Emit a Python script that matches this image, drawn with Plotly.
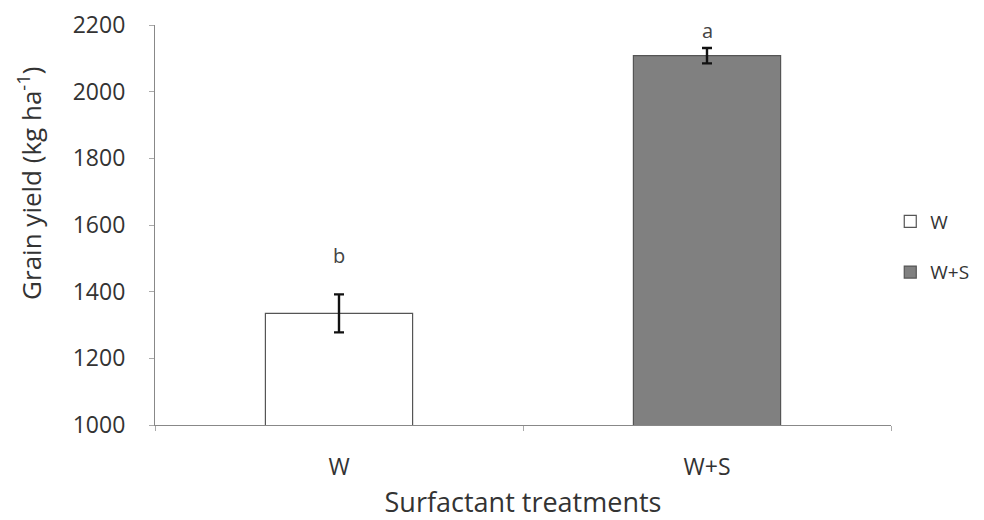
import plotly.graph_objects as go

categories = ["W", "W+S"]
yield_means = [1335, 2108]
yield_errors = [57, 23]
letters = ["b", "a"]
letter_y = [1510, 2185]
fill_colors = ["#ffffff", "#808080"]
y_ticks = [1000, 1200, 1400, 1600, 1800, 2000, 2200]

fig = go.Figure()
for i, cat in enumerate(categories):
    fig.add_trace(go.Bar(
        x=[cat], y=[yield_means[i]], name=cat,
        marker=dict(color=fill_colors[i], line=dict(color="#555555", width=1.2)),
        width=0.4,
        error_y=dict(type="data", array=[yield_errors[i]], color="#111111", thickness=2.4, width=5),
        legendgroup=cat,
    ))

for i, cat in enumerate(categories):
    fig.add_annotation(x=cat, y=letter_y[i], text=letters[i], showarrow=False,
                       font=dict(size=20, color="#444444"))

# y-axis title (placed like the reference, slightly above the plot centre)
fig.add_annotation(xref="paper", yref="paper", x=-0.17, y=0.605,
                   text="Grain yield (kg ha<sup>-1</sup>)", textangle=-90, showarrow=False,
                   xanchor="center", yanchor="middle",
                   font=dict(size=26, color="#333333"))

font_family = "Open Sans, Liberation Sans, sans-serif"
fig.update_layout(
    width=976, height=512,
    margin=dict(l=147, r=93, t=17, b=95, autoexpand=False),
    plot_bgcolor="white", paper_bgcolor="white",
    barmode="overlay",
    font=dict(family=font_family, color="#333333", size=20),
    showlegend=True,
    legend=dict(x=0.999, y=0.445, xanchor="left", yanchor="middle",
                font=dict(size=19, color="#333333"), tracegroupgap=23,
                traceorder="grouped", itemwidth=30),
    xaxis=dict(
        title=dict(text="Surfactant treatments", font=dict(size=27, color="#333333"), standoff=17),
        showline=True, linecolor="#888888", linewidth=1.2,
        ticks="outside", ticklen=5, tickcolor="#aaaaaa", tickson="boundaries",
        tickfont=dict(size=23, color="#333333"), ticklabelstandoff=21,
        showgrid=False, automargin=False,
    ),
    yaxis=dict(
        range=[1000, 2200], tickvals=y_ticks,
        showline=True, linecolor="#888888", linewidth=1.2,
        ticks="outside", ticklen=5, tickcolor="#aaaaaa",
        tickfont=dict(size=23, color="#333333"), ticklabelstandoff=19,
        showgrid=False, zeroline=False, automargin=False,
    ),
)

fig.write_html("out.html")
